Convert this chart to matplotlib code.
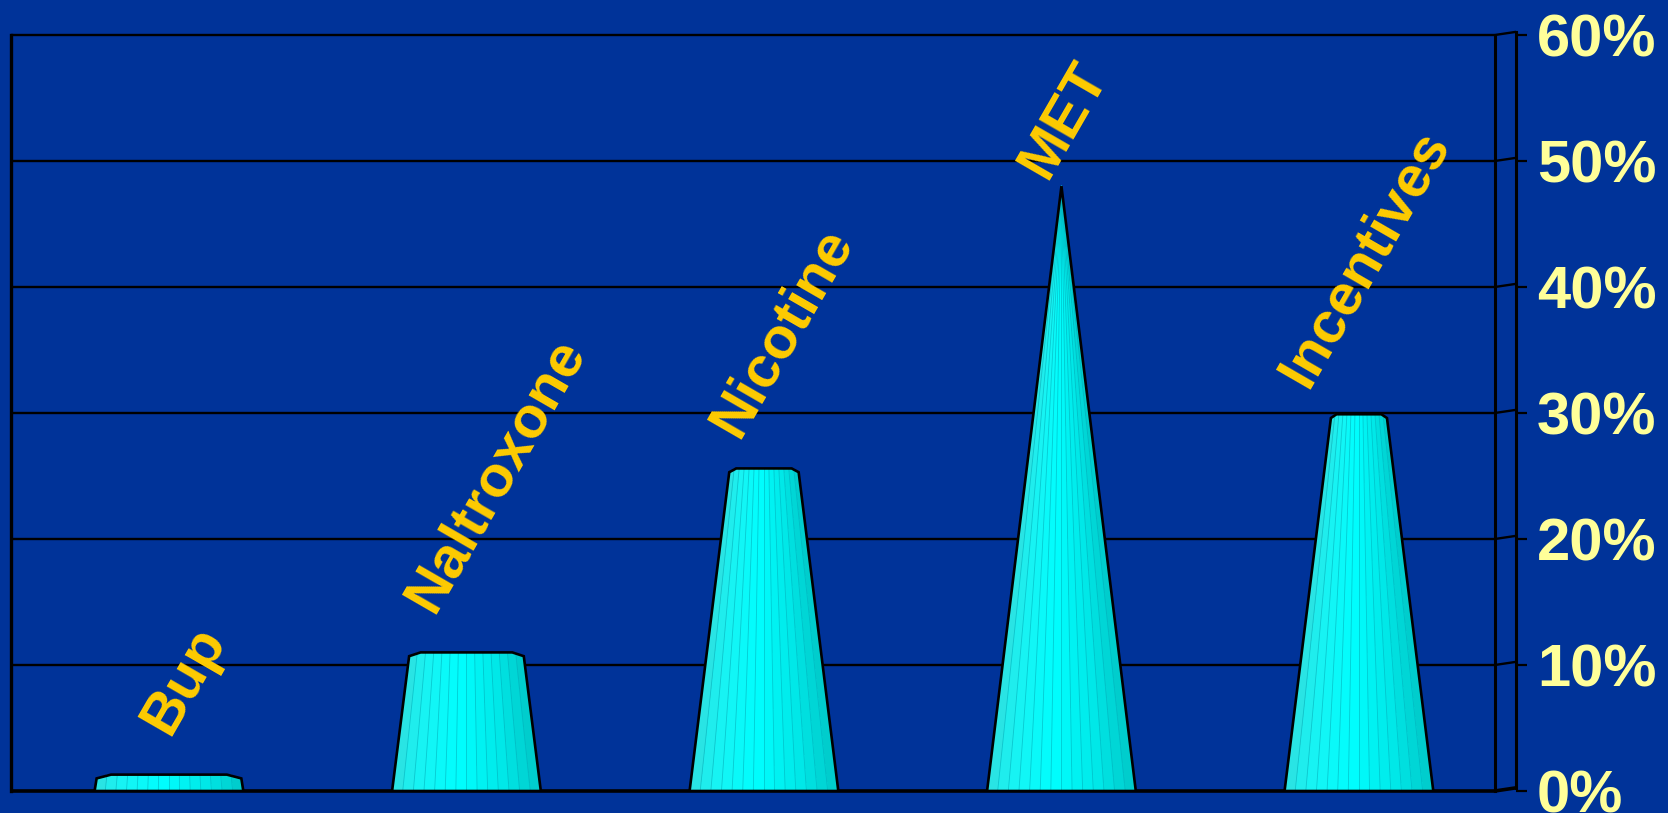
import numpy as np
import matplotlib
matplotlib.use('Agg')
import matplotlib.pyplot as plt
from matplotlib.patches import Polygon

# data
categories = ['Bup', 'Naltroxone', 'Nicotine', 'MET', 'Incentives']
values = [1.3, 11.0, 25.6, 48.0, 29.9]     # percent
yticks = [0, 10, 20, 30, 40, 50, 60]
ytick_labels = ['0%', '10%', '20%', '30%', '40%', '50%', '60%']

# style / layout
bg = '#003399'
label_color = '#FFCC00'
tick_color = '#FFFF99'
font = 'Liberation Sans'
half_w = 0.25              # half width of a pyramid base (category units)
x_left, x_inner, x_outer = -0.531, 4.457, 4.528
slant = 0.25               # rise of gridlines across the side wall
label_lift = [2.5, 2.5, 1.8, -0.1, 1.5]   # gap between bar top and its label (percent)
label_shift = [0.05, 0.10, 0.06, 0.01, 0.02]
n_facets = 14

# facet colours across a pyramid face, left to right
stops_u = [0.0, 0.15, 0.45, 0.75, 1.0]
stops_c = np.array([[0.18, 0.88, 0.88],
                    [0.10, 0.95, 0.95],
                    [0.00, 1.00, 1.00],
                    [0.00, 0.91, 0.91],
                    [0.00, 0.79, 0.79]])

fig = plt.figure(figsize=(16.68, 8.13), dpi=100, facecolor=bg)
ax = fig.add_axes([11 / 1668, 22 / 813, 1505 / 1668, 756 / 813])
ax.set_facecolor(bg)
for s in ax.spines.values():
    s.set_visible(False)

vmax = max(values)

# gridlines with the little slanted piece on the side wall
for y in yticks:
    ax.plot([x_left, x_inner, x_outer], [y, y, y + slant], color='black',
            lw=1.7 if y > 0 else 2.6, zorder=1, clip_on=False,
            solid_capstyle='butt')
ax.plot([x_left, x_left], [0, 60], color='black', lw=2.4, zorder=1, clip_on=False)
ax.plot([x_inner, x_inner], [0, 60], color='black', lw=2.2, zorder=1, clip_on=False)
ax.plot([x_outer, x_outer], [slant, 60 + slant], color='black', lw=2.2, zorder=1,
        clip_on=False)


def draw_bar(x, v):
    wt = half_w * (1 - v / vmax)
    if wt > 1e-3:
        cx = 0.2 * wt
        dy = 0.3
        pts = [(x - half_w, 0), (x - wt, v - dy), (x - wt + cx, v),
               (x + wt - cx, v), (x + wt, v - dy), (x + half_w, 0)]
    else:
        pts = [(x - half_w, 0), (x, v), (x + half_w, 0)]
    clip = Polygon(pts, closed=True, facecolor='none', edgecolor='none')
    ax.add_patch(clip)

    xs = np.linspace(x - half_w, x + half_w, 300)
    ys = np.linspace(0, v, 300)
    X, Y = np.meshgrid(xs, ys)
    hw = np.maximum(half_w * (1 - Y / vmax), 1e-6)
    u = np.clip((X - (x - hw)) / (2 * hw), 0, 0.9999)
    uq = (np.floor(u * n_facets) + 0.5) / n_facets
    rgb = np.stack([np.interp(uq, stops_u, stops_c[:, k]) for k in range(3)], axis=-1)
    im = ax.imshow(rgb, extent=(x - half_w, x + half_w, 0, v), origin='lower',
                   aspect='auto', interpolation='nearest', zorder=3)
    im.set_clip_path(clip)

    # thin facet edges running up the face
    for f in np.arange(1, n_facets) / n_facets:
        ax.plot([x - half_w + 2 * half_w * f, x - wt + 2 * wt * f], [0, v],
                color=(0.0, 0.68, 0.72), lw=0.6, alpha=0.6, zorder=3.5)

    ax.add_patch(Polygon(pts, closed=True, facecolor='none', edgecolor='black',
                         lw=1.9, joinstyle='miter', zorder=4))


for i, v in enumerate(values):
    draw_bar(i, v)
    ax.text(i + label_shift[i], v + label_lift[i], categories[i], rotation=60,
            ha='center', va='bottom', color=label_color, fontsize=42,
            fontweight='bold', family=font, zorder=5)

ax.set_xlim(x_left, x_outer)
ax.set_ylim(0, 60)
ax.set_xticks([])
ax.yaxis.tick_right()
ax.set_yticks(yticks)
ax.set_yticklabels(ytick_labels)
ax.tick_params(axis='y', length=8, width=1.6, color='black', pad=7,
               labelsize=43, labelcolor=tick_color)
for t in ax.get_yticklabels():
    t.set_fontweight('bold')
    t.set_family(font)

fig.savefig('out.png', dpi=100, facecolor=bg)
